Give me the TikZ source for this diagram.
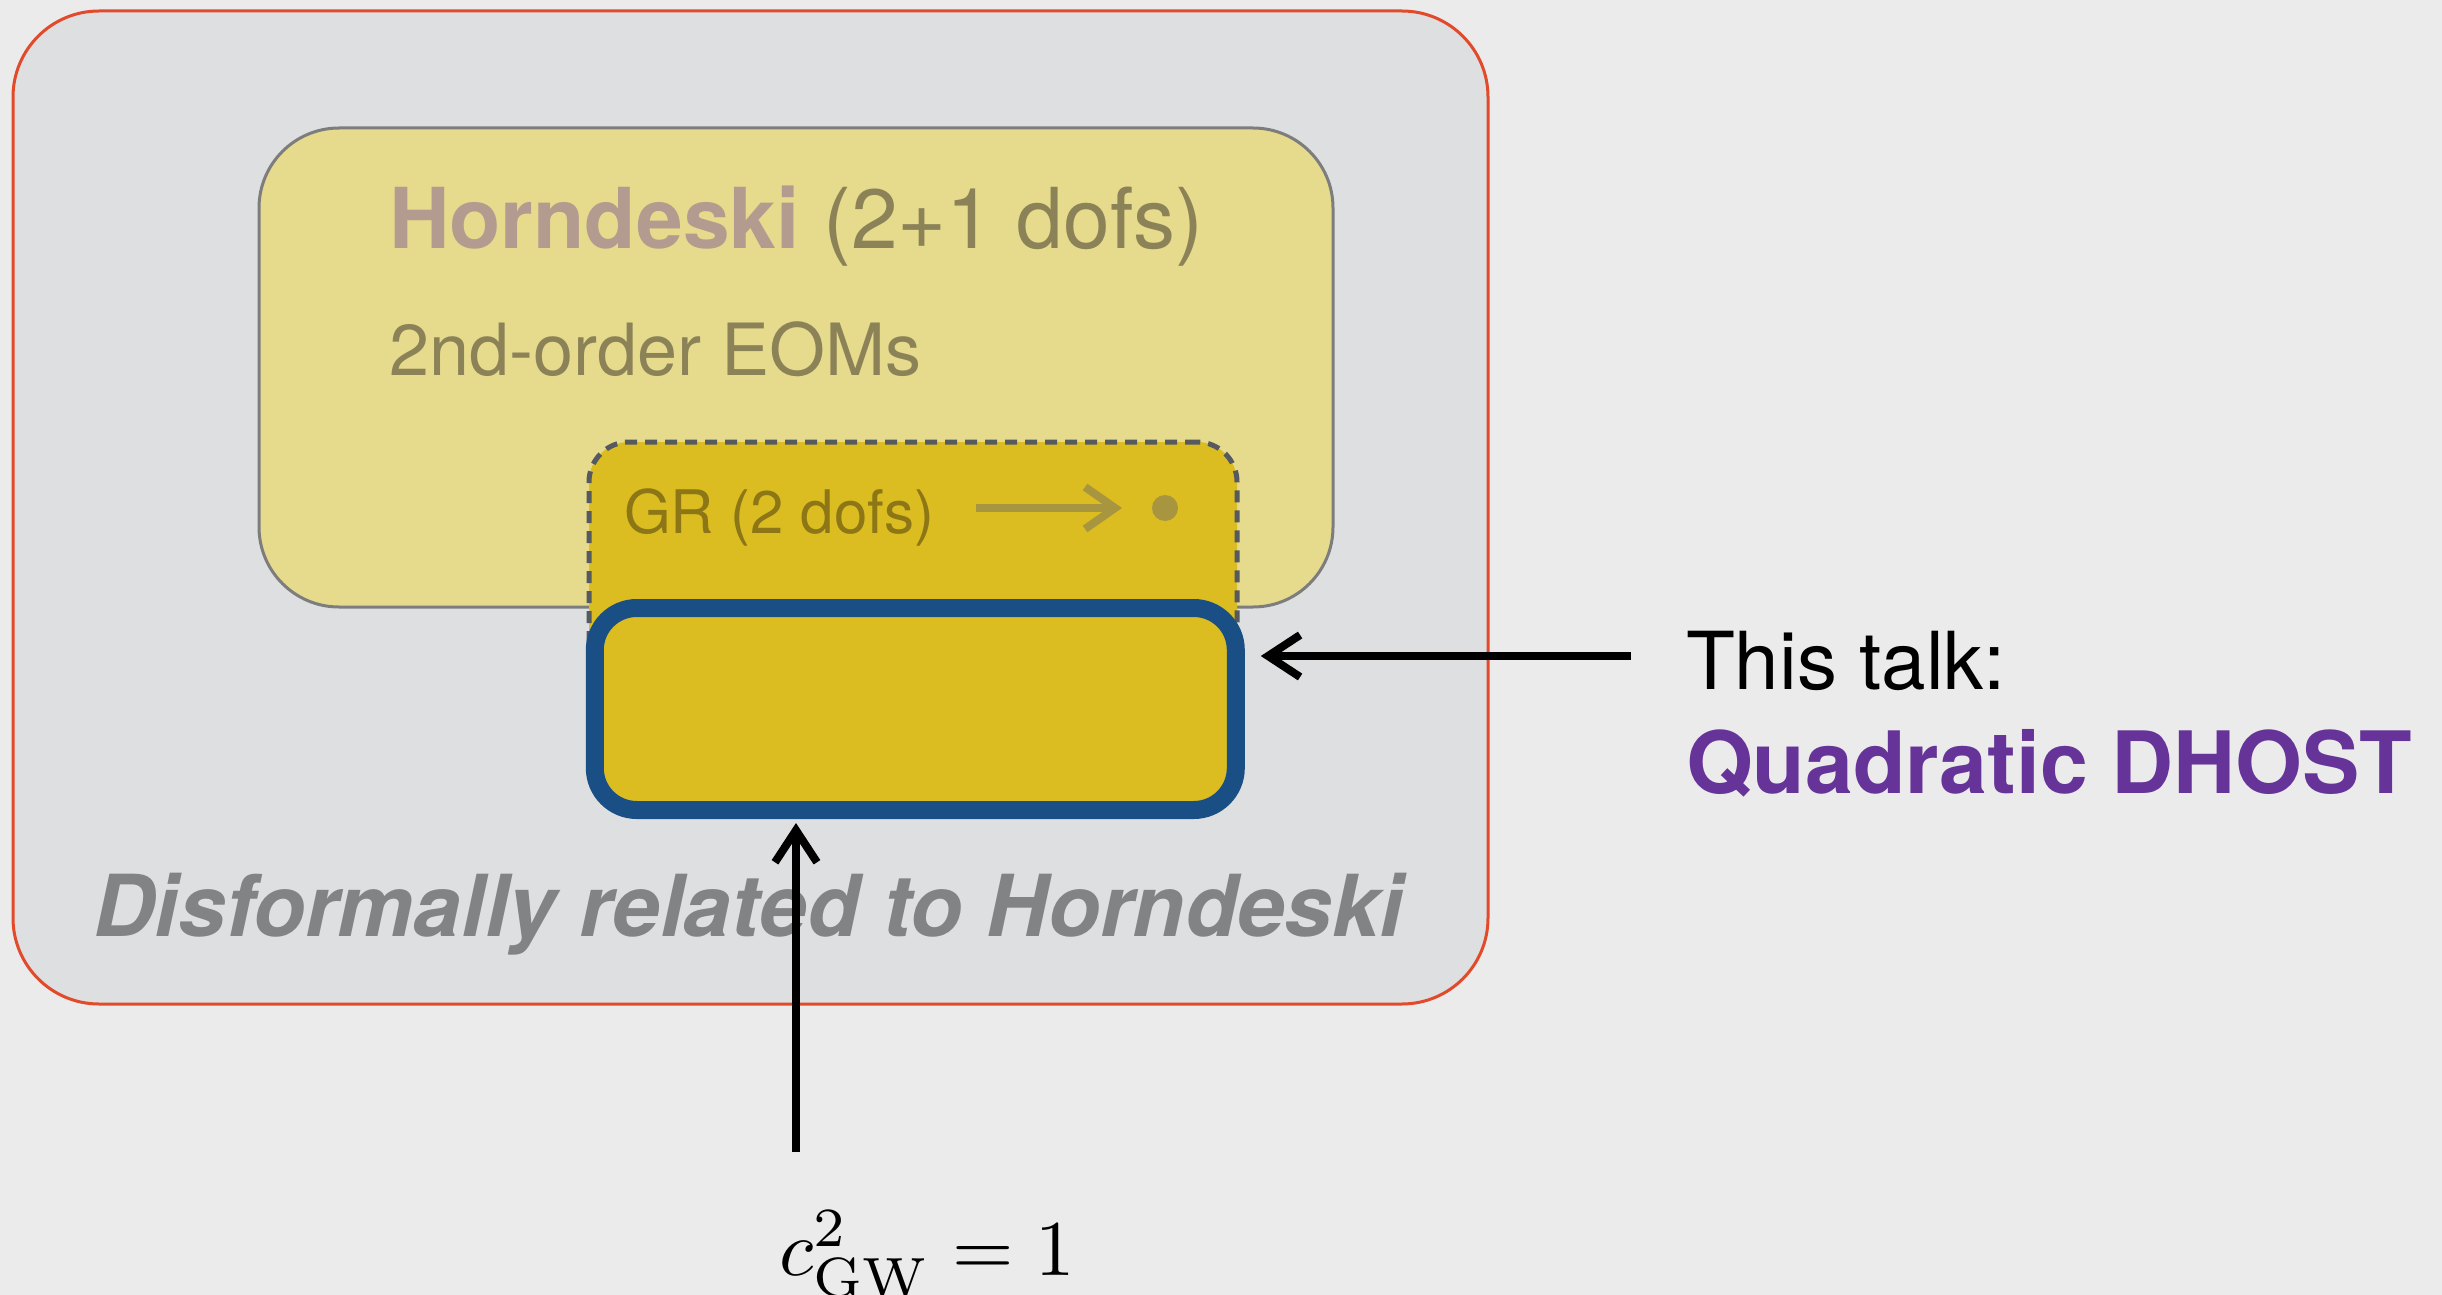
\documentclass[tikz,border=0pt]{standalone}
\usepackage{graphicx}
\usepackage[no-math]{fontspec}
\setmainfont{TeX Gyre Heros}
\usetikzlibrary{arrows.meta}
\definecolor{bgc}{HTML}{EBEBEB}
\definecolor{outerfill}{HTML}{DEDFE0}
\definecolor{outerdraw}{HTML}{E24A2C}
\definecolor{hfill}{HTML}{E6DA8D}
\definecolor{hdraw}{HTML}{7D7D7D}
\definecolor{gold}{HTML}{DBBD22}
\definecolor{qblue}{HTML}{1A4F85}
\definecolor{hname}{HTML}{B39B8F}
\definecolor{htext}{HTML}{8C8258}
\definecolor{grtext}{HTML}{8C7615}
\definecolor{grarrow}{HTML}{A8953F}
\definecolor{dgray}{HTML}{555960}
\definecolor{ditalic}{HTML}{828384}
\definecolor{qpurple}{HTML}{663399}
\tikzset{
  box/.style={rectangle, inner sep=0pt},
  txt/.style={anchor=base west, inner sep=0pt, outer sep=0pt},
  blackarrow/.style={line width=8pt, black, -{Straight Barb[length=32pt,width=42pt]}},
}
\begin{document}
\begin{tikzpicture}[x=1pt,y=-1pt]
\useasboundingbox (0,0) rectangle (2442,1295);
\fill[bgc] (0,0) rectangle (2442,1295);
% outer region
\node[box, draw=outerdraw, fill=outerfill, line width=3pt, rounded corners=86pt,
      minimum width=1475pt, minimum height=993pt] (outer) at (750.5,507.5) {};
% Horndeski box
\node[box, draw=hdraw, fill=hfill, line width=3pt, rounded corners=80pt,
      minimum width=1074pt, minimum height=479pt] (horn) at (796,367.5) {};
% GR dashed box
\node[box, draw=dgray, fill=gold, line width=5pt, dash pattern=on 12pt off 8pt, rounded corners=40pt,
      minimum width=648pt, minimum height=278pt] (gr) at (913,581) {};
% Quadratic DHOST box
\node[box, draw=qblue, fill=gold, line width=18pt, rounded corners=42pt,
      minimum width=641pt, minimum height=202pt] (qd) at (915.3,709) {};
% texts
\node[txt, font=\fontsize{84}{100}\selectfont] (hl) at (389,248)
  {{\bfseries\color{hname}Horndeski} {\color{htext}(2+1 dofs)}};
\node[txt, font=\fontsize{72}{86}\selectfont, text=htext] (eom) at (389,375) {2nd-order EOMs};
\node[txt, font=\fontsize{60}{72}\selectfont, text=grtext] (grl) at (624,533) {GR (2 dofs)};
\node[circle, fill=grarrow, minimum size=26pt, inner sep=0pt] (dot) at (1165,508) {};
\coordinate (grstart) at (976,508);
\draw[grarrow, line width=8pt, -{Straight Barb[length=30pt,width=42pt]}, shorten >=43pt]
  (grstart) -- (dot.center);
\node[txt, font=\fontsize{85.5}{100}\selectfont\bfseries\itshape, text=ditalic] (disf) at (93,936)
  {Disformally related to Horndeski};
\node[txt, font=\fontsize{80}{96}\selectfont] (talk) at (1686,689) {This talk:};
\node[txt, font=\fontsize{86}{100}\selectfont\bfseries, text=qpurple] (dhost) at (1686,793) {Quadratic DHOST};
\node[txt] (gw) at (779,1275) {\scalebox{7.9}{$c^2_{\mathrm{GW}}=1$}};
% arrows
\coordinate (talkarrow) at (1631,656);
\draw[blackarrow, shorten >=16pt] (talkarrow) -- (talkarrow -| qd.east);
\coordinate (gwarrow) at (796,1152);
\draw[blackarrow, shorten >=4pt] (gwarrow) -- (gwarrow |- qd.south);
\end{tikzpicture}
\end{document}
